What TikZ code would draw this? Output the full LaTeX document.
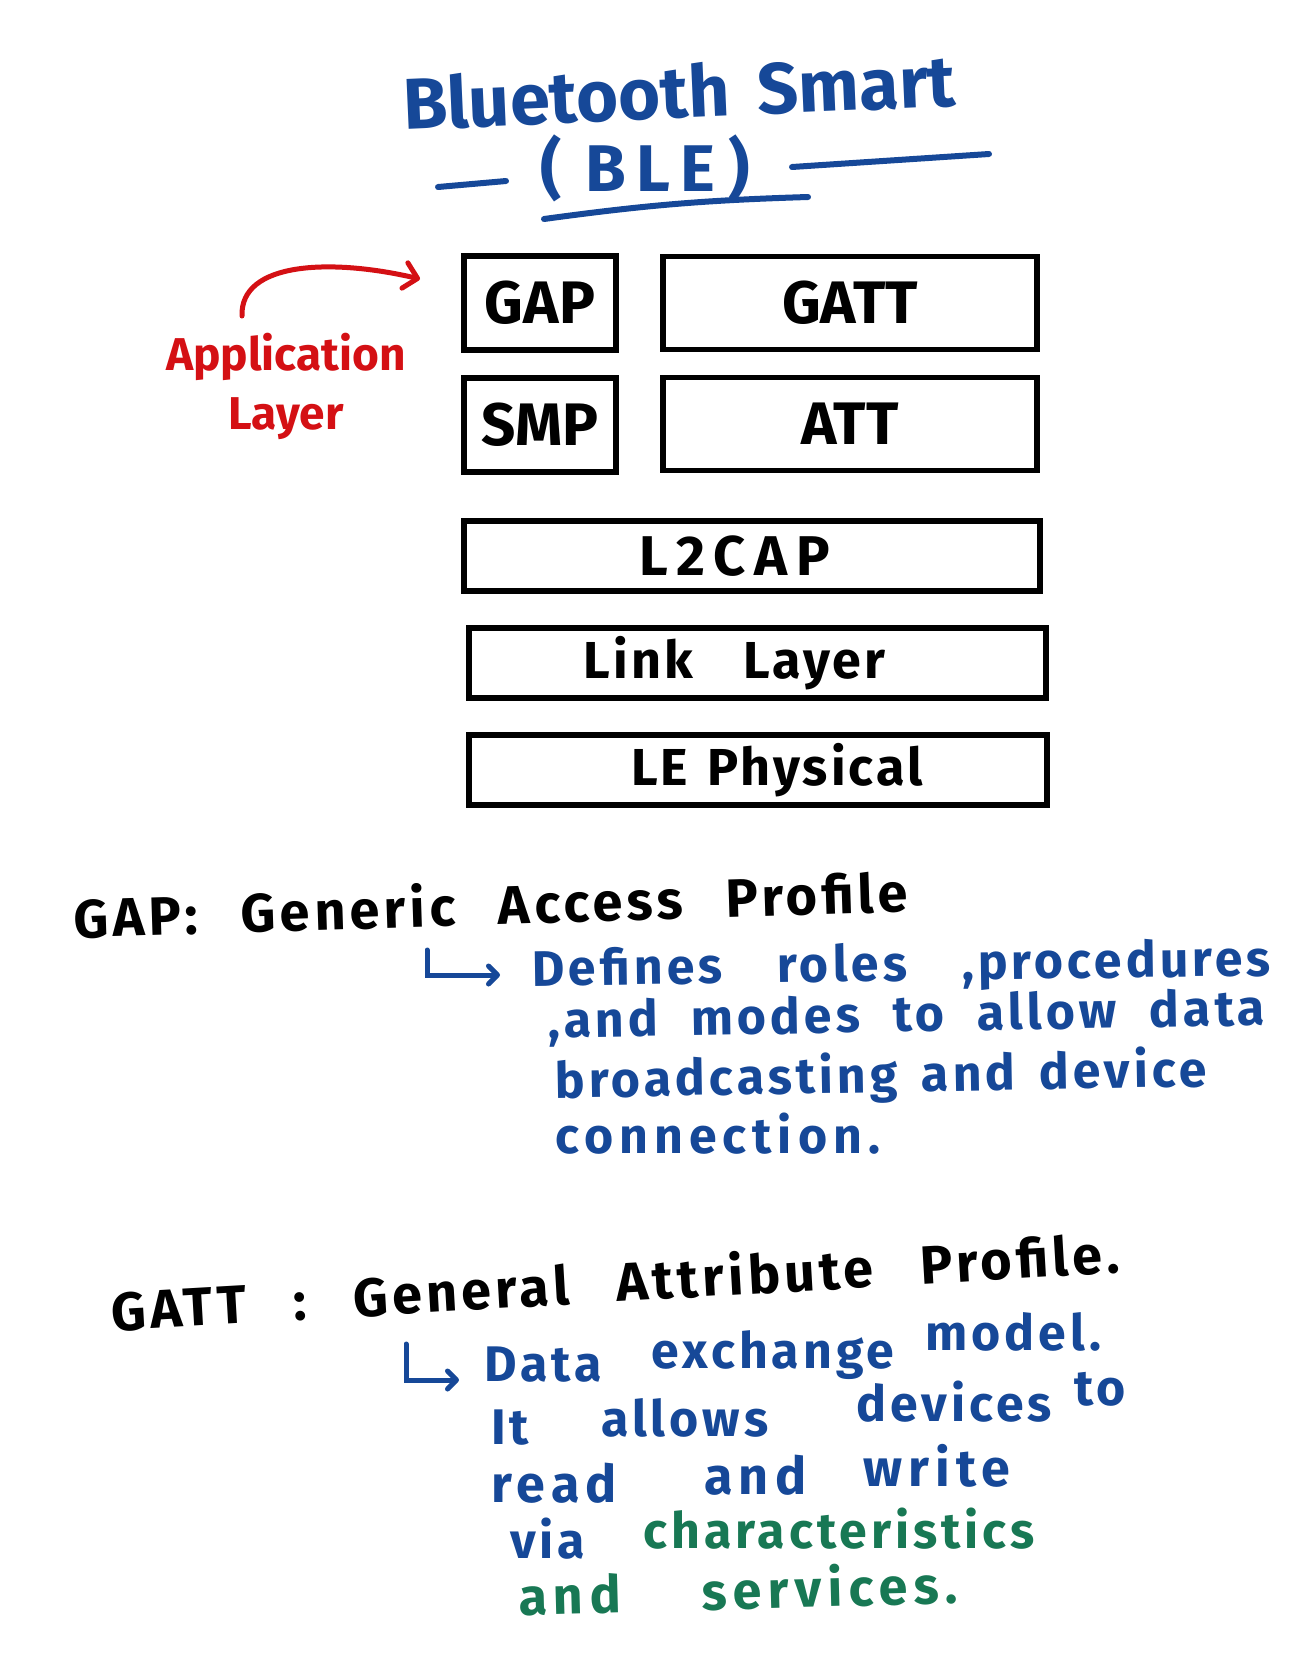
\documentclass[tikz,border=0pt]{standalone}
\usepackage{fontspec}
\setmainfont{Fira Sans}
\usepackage{tikz}
\usetikzlibrary{arrows.meta,
                positioning}
\definecolor{penblue}{RGB}{22,72,152}
\definecolor{penred}{RGB}{212,16,20}
\definecolor{pengreen}{RGB}{24,120,84}

\begin{document}
\begin{tikzpicture}[x=1pt, y=-1pt,
node distance = 28pt,
   LYR/.style = {draw, line width=5.5pt, inner sep=0pt, outer sep=0pt,
                 font=\bfseries\fontsize{60}{66}\selectfont},
   LOW/.style = {LYR, minimum height=70pt,
                 font=\bfseries\fontsize{52}{58}\selectfont\addfontfeature{LetterSpace=6}},
   PEN/.style = {line width=6pt, line cap=round},
   TXT/.style = {anchor=base west, inner sep=0pt},
  NOTE/.style = {TXT, text=penblue,
                 font=\bfseries\fontsize{50}{56}\selectfont\addfontfeature{LetterSpace=8}},
   BIG/.style = {font=\bfseries\fontsize{52}{58}\selectfont\addfontfeature{LetterSpace=12}},
  HEAD/.style = {TXT, text=black,
                 font=\bfseries\fontsize{54}{60}\selectfont\addfontfeature{LetterSpace=8}},
  HOOK/.style = {PEN, line width=5pt, penblue,
                 -{Straight Barb[length=9pt, width=18pt, round]}}
                        ]
\path[use as bounding box, fill=white] (0,0) rectangle (1292,1668);
% title
\node (title) [TXT, text=penblue, font=\bfseries\fontsize{72}{78}\selectfont, rotate=2.5]
      at (404,130) {\makebox[553pt][s]{Bluetooth Smart}};
\node (ble)   [TXT, text=penblue, font=\bfseries\fontsize{66}{72}\selectfont]
      at (540,191) {(\hspace{24pt}B\hspace{10pt}L\hspace{10pt}E\hspace{14pt})};
\coordinate (dashL1) at (438,187);  \coordinate (dashL2) at (506,181);
\coordinate (dashR1) at (792,167);  \coordinate (dashR2) at (989,154);
\coordinate (ulineA) at (544,219);  \coordinate (ulineB) at (808,197);
\draw[PEN, penblue] (dashL1) -- (dashL2);
\draw[PEN, penblue] (dashR1) -- (dashR2);
\draw[PEN, penblue] (ulineA) to[bend left=3] (ulineB);
% protocol stack
\node (gap)   [LYR, minimum width=152pt, minimum height=94pt]
      at (540,303) {GAP};
\node (gatt)  [LYR, minimum width=374pt, minimum height=93pt,
               right=47pt of gap] {GATT};
\node (smp)   [LYR, minimum width=152pt, minimum height=94pt,
               below=of gap] {SMP};
\node (att)   [LYR, minimum width=374pt, minimum height=93pt,
               below=of gatt] {ATT};
\node (l2cap) [LOW, minimum width=576pt,
               font=\bfseries\fontsize{56}{60}\selectfont\addfontfeature{LetterSpace=16},
               below=49pt of smp.south west, anchor=north west]
              {L2CAP\hspace*{34pt}};
\node (link)  [LOW, minimum width=577pt,
               below=37pt of l2cap.south west, xshift=5pt, anchor=north west]
              {\makebox[302pt][s]{Link Layer}\hspace*{46pt}};
\node (phy)   [LOW, minimum width=578pt,
               below=37pt of link.south west, anchor=north west]
              {\hspace*{38pt}\makebox[292pt][s]{LE Physical}};
% application layer note
\node (appl)  [text=penred, font=\bfseries\fontsize{46}{52}\selectfont]
      at (286,357) {Application};
\node (layr)  [text=penred, font=\bfseries\fontsize{46}{52}\selectfont,
               below=10pt of appl] {Layer};
\coordinate (arrtail) at (242,316);
\coordinate (arrtip)  at (420,279);
\draw[PEN, line width=5pt, penred, -{Straight Barb[length=13pt, width=26pt, round]}]
      (arrtail) .. controls (240,262) and (330,258) .. (arrtip);
% GAP note
\node (gapdef) [HEAD, rotate=1.8] at (74,938)
      {\makebox[835pt][s]{GAP: Generic Access Profile}};
\coordinate (hookA) at (427,950);
\coordinate (hookB) at (500,975);
\draw[HOOK] (hookA) |- (hookB);
\node (gap1) [NOTE, rotate=0.8] at (532,986)
      {\makebox[739pt][s]{Defines roles ,procedures}};
\node (gap2) [NOTE, rotate=1] at (548,1038)
      {\makebox[717pt][s]{,and modes to allow data}};
\node (gap3) [NOTE, rotate=1] at (555,1098)
      {\makebox[652pt][s]{broadcasting and device}};
\node (gap4) [NOTE, font=\bfseries\fontsize{50}{56}\selectfont\addfontfeature{LetterSpace=12}]
      at (555,1153) {connection.};
% GATT note
\node (gattdef) [HEAD, rotate=3.3] at (112,1331)
      {\makebox[1010pt][s]{GATT : General Attribute Profile.}};
\coordinate (hookC) at (406,1344);
\coordinate (hookD) at (459,1380);
\draw[HOOK] (hookC) |- (hookD);
% GATT note, word by word
\foreach \w/\x/\y [count=\i] in {Data/484/1381, exchange/651/1368, model./925/1350}
  \node (gattA\i) [NOTE] at (\x,\y) {\w};
\foreach \w/\x/\y [count=\i] in {It/491/1444, allows/601/1436, devices/856/1421, to/1074/1405}
  \node (gattB\i) [NOTE] at (\x,\y) {\w};
\foreach \w/\x/\y [count=\i] in {read/491/1502, and/704/1494, write/863/1486}
  \node (gattC\i) [NOTE, BIG] at (\x,\y) {\w};
\node (gattD1) [NOTE] at (510,1558) {via};
\node (gattD2) [NOTE, text=pengreen] at (643,1548) {characteristics};
\foreach \w/\x/\y [count=\i] in {and/519/1615, services./702/1610}
  \node (gattE\i) [NOTE, BIG, text=pengreen, rotate=1.5] at (\x,\y) {\w};
\end{tikzpicture}
\end{document}
